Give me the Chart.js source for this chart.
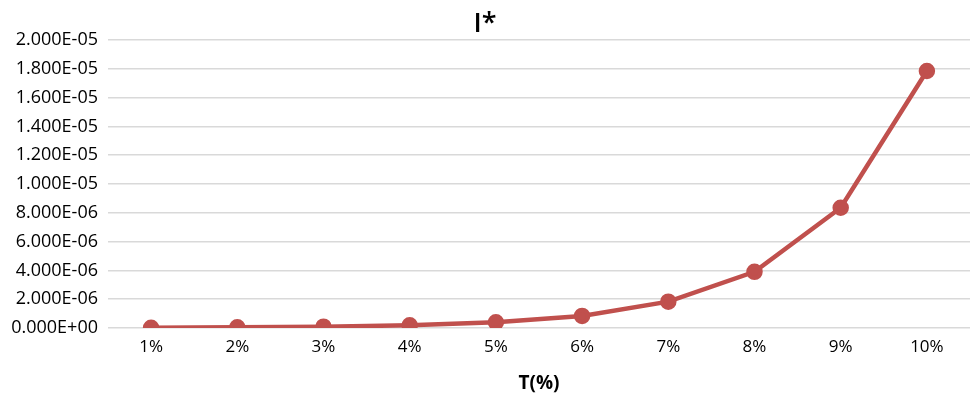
<!DOCTYPE html>
<html>
<head>
<meta charset="utf-8">
<script src="https://cdn.jsdelivr.net/npm/chart.js@4/dist/chart.umd.min.js"></script>
<style>
html,body{margin:0;padding:0;background:#fff;}
#wrap{width:973px;height:395px;position:relative;}
</style>
</head>
<body>
<div id="wrap"><canvas id="c" width="973" height="395"></canvas></div>
<script>
const categories = ["1%","2%","3%","4%","5%","6%","7%","8%","9%","10%"];
const seriesValues = [2.0e-8, 4.5e-8, 9.0e-8, 1.9e-7, 4.0e-7, 8.4e-7, 1.83e-6, 3.9e-6, 8.35e-6, 1.785e-5];
const yTicksMin = 0, yTicksMax = 2.0e-5, yTickStep = 2.0e-6;

function sci(v){
  if (Math.abs(v) < 1e-15) return "0.000E+00";
  let e = Math.floor(Math.log10(Math.abs(v)) + 1e-9);
  let m = v / Math.pow(10, e);
  if (Math.abs(m) >= 9.9995) { m /= 10; e += 1; }
  const sign = e < 0 ? "-" : "+";
  const ea = Math.abs(e);
  return m.toFixed(3) + "E" + sign + (ea < 10 ? "0" + ea : ea);
}

const FONT = "'Open Sans', 'Liberation Sans', sans-serif";
const red = "#C0504D";

new Chart(document.getElementById("c"), {
  type: "line",
  data: {
    labels: categories,
    datasets: [{
      data: seriesValues,
      borderColor: red,
      backgroundColor: red,
      borderWidth: 4.5,
      pointRadius: 6,
      pointHoverRadius: 6,
      pointBackgroundColor: red,
      pointBorderColor: red,
      tension: 0,
      fill: false
    }]
  },
  options: {
    responsive: false,
    animation: false,
    devicePixelRatio: 1,
    layout: { autoPadding: false, padding: { left: 0, right: 3, top: 0, bottom: 0 } },
    plugins: {
      legend: { display: false },
      tooltip: { enabled: false },
      title: {
        display: true,
        text: "I*",
        color: "#000",
        font: { family: FONT, size: 27, weight: "600", lineHeight: 1.0 },
        padding: { top: 11, bottom: 2 }
      }
    },
    scales: {
      x: {
        offset: true,
        grid: { display: false, drawTicks: false },
        border: { display: false },
        ticks: { color: "#000", font: { family: FONT, size: 17 }, padding: 9, maxRotation: 0 },
        title: { display: true, text: "T(%)", color: "#000", font: { family: FONT, size: 19, weight: "bold" }, padding: { top: 4, bottom: 0 } },
        afterFit: s => { s.height = 67; }
      },
      y: {
        min: yTicksMin, max: yTicksMax,
        grid: { color: "#d9d9d9", lineWidth: 1.5, drawTicks: false },
        border: { display: false },
        ticks: { stepSize: yTickStep, color: "#000", font: { family: FONT, size: 18 }, padding: 10, callback: v => sci(v) },
        afterFit: s => { s.width = 108; }
      }
    }
  }
});
</script>
</body>
</html>
